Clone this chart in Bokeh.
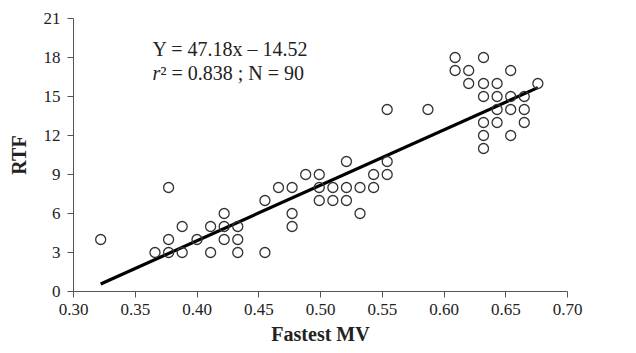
from bokeh.plotting import figure
from bokeh.models import Label, FixedTicker, NumeralTickFormatter
from bokeh.embed import file_html
from bokeh.resources import INLINE

# Data (x as positioned on the drawn axis)
mv = [0.322, 0.366, 0.377, 0.377, 0.377, 0.388, 0.388, 0.400, 0.411, 0.411,
      0.422, 0.422, 0.422, 0.433, 0.433, 0.433, 0.455, 0.455,
      0.466, 0.477, 0.477, 0.477, 0.488, 0.499, 0.499, 0.499, 0.510, 0.510,
      0.521, 0.521, 0.521, 0.532, 0.532, 0.543, 0.543, 0.554, 0.554, 0.554,
      0.587,
      0.609, 0.609, 0.620, 0.620, 0.632, 0.632, 0.632, 0.632, 0.632, 0.632,
      0.643, 0.643, 0.643, 0.643, 0.654, 0.654, 0.654, 0.654, 0.665, 0.665,
      0.665, 0.676]
rtf = [4, 3, 8, 4, 3, 5, 3, 4, 5, 3,
       6, 5, 4, 5, 4, 3, 7, 3,
       8, 8, 6, 5, 9, 9, 8, 7, 8, 7,
       10, 8, 7, 8, 6, 9, 8, 14, 10, 9,
       14,
       18, 17, 17, 16, 18, 16, 15, 13, 12, 11,
       16, 15, 14, 13, 17, 15, 14, 12, 15, 14,
       13, 16]

fit_x = [0.322, 0.676]
fit_y = [0.58, 15.68]

x_ticks = [0.30, 0.35, 0.40, 0.45, 0.50, 0.55, 0.60, 0.65, 0.70]
y_ticks = [0, 3, 6, 9, 12, 15, 18, 21]

SERIF = "Liberation Serif"

p = figure(width=636, height=353, x_range=(0.30, 0.70), y_range=(0, 21),
           output_backend="svg", toolbar_location=None,
           min_border_left=73, min_border_right=69, min_border_top=18, min_border_bottom=62)
p.outline_line_color = None
p.xgrid.visible = False
p.ygrid.visible = False
p.background_fill_color = "white"
p.border_fill_color = "white"

p.line(fit_x, fit_y, line_color="black", line_width=3.2)
p.scatter(mv, rtf, marker="circle", size=10, fill_color="white", fill_alpha=0,
          line_color="#333333", line_width=1.3)

for ax in (p.xaxis[0], p.yaxis[0]):
    ax.axis_line_color = "#555555"
    ax.major_tick_line_color = "#555555"
    ax.major_tick_out = 6
    ax.major_tick_in = 0
    ax.minor_tick_out = 0
    ax.minor_tick_in = 0
    ax.major_label_text_font = SERIF
    ax.major_label_text_font_size = "17px"
    ax.major_label_text_color = "#222222"
    ax.axis_label_text_font = SERIF
    ax.axis_label_text_font_style = "bold"
    ax.axis_label_text_font_size = "20px"
    ax.axis_label_text_color = "#222222"

p.xaxis.major_label_standoff = 6
p.yaxis.major_label_standoff = 7
p.xaxis.ticker = FixedTicker(ticks=x_ticks)
p.xaxis.formatter = NumeralTickFormatter(format="0.00")
p.yaxis.ticker = FixedTicker(ticks=y_ticks)
p.xaxis.axis_label = "Fastest MV"
p.yaxis.axis_label = "RTF"
p.xaxis.axis_label_standoff = 5
p.yaxis.axis_label_standoff = 11

p.add_layout(Label(x=0.364, y=18.69, text="Y = 47.18x – 14.52", text_font=SERIF,
                   text_font_size="20px", text_color="#222222", text_baseline="alphabetic"))
p.add_layout(Label(x=0.364, y=16.77, text="r", text_font=SERIF, text_font_style="italic",
                   text_font_size="20px", text_color="#222222", text_baseline="alphabetic"))
p.add_layout(Label(x=0.364, y=16.77, x_offset=8, text="² = 0.838 ; N = 90", text_font=SERIF,
                   text_font_size="20px", text_color="#222222", text_baseline="alphabetic"))

open("out.html", "w").write(file_html(p, INLINE))
